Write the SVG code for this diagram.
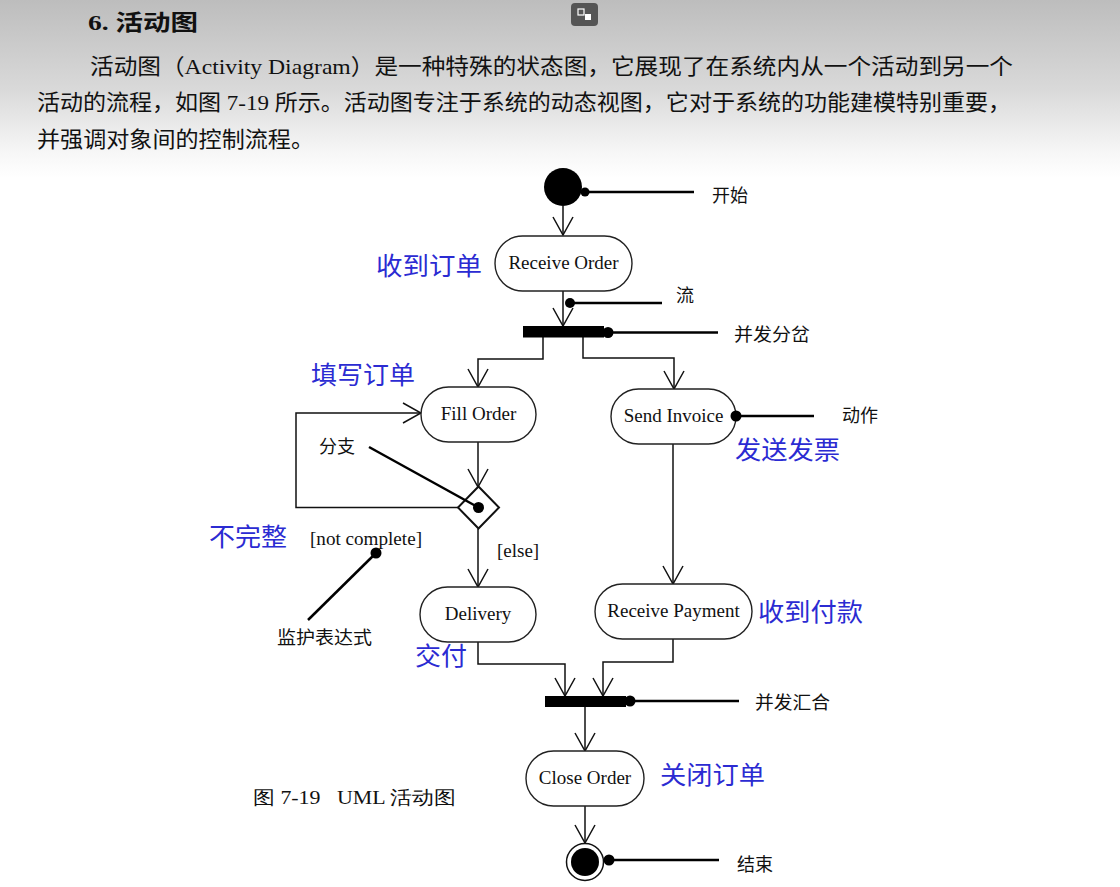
<svg xmlns="http://www.w3.org/2000/svg" width="1120" height="887" viewBox="0 0 1120 887">
<defs>
<linearGradient id="bg" x1="0" y1="0" x2="0" y2="1">
<stop offset="0" stop-color="#bdbdbd"/>
<stop offset="0.5" stop-color="#d9d9d9"/>
<stop offset="0.85" stop-color="#f6f6f6"/>
<stop offset="1" stop-color="#ffffff"/>
</linearGradient>
<marker id="arr" viewBox="0 0 20 22" refX="19" refY="11" markerWidth="20" markerHeight="22" markerUnits="userSpaceOnUse" orient="auto">
<path d="M1,1 L19,11 L1,21" fill="none" stroke="#111" stroke-width="1.5"/>
</marker>
<style>
.para{font-family:"Liberation Serif","Noto Sans CJK SC",serif;font-size:22px;fill:#111}
.title{font-family:"Liberation Serif","Noto Sans CJK SC",serif;font-size:22px;font-weight:bold;fill:#111}
.node{fill:#fff;stroke:#222;stroke-width:1.4}
.ntxt{font-family:"Liberation Serif",serif;font-size:19px;fill:#111;text-anchor:middle}
.lbl{font-family:"Liberation Serif","Noto Sans CJK SC",serif;font-size:18px;fill:#111}
.blue{font-family:"Noto Sans CJK SC",sans-serif;font-size:25px;fill:#2b2bd2}
.grd{font-family:"Liberation Serif",serif;font-size:19px;fill:#111}
.conn{fill:none;stroke:#111;stroke-width:1.5}
.ptr{stroke:#000;stroke-width:2.5;fill:none}
.dot{fill:#000}
.bar{fill:#000}
</style>
</defs>
<rect x="0" y="0" width="1120" height="887" fill="#fff"/>
<rect x="0" y="0" width="1120" height="178" fill="url(#bg)"/>
<g id="toolbar-icon">
<rect x="571" y="3" width="27" height="23" rx="4" fill="#555"/>
<rect x="578" y="9" width="6" height="6" fill="none" stroke="#fff" stroke-width="1.2"/>
<rect x="585" y="14" width="6" height="6" fill="#fff"/>
</g>
<g id="heading">
<text class="title" x="88" y="30" textLength="110" lengthAdjust="spacingAndGlyphs">6. 活动图</text>
<text class="para" x="90" y="74" textLength="923" lengthAdjust="spacingAndGlyphs">活动图（Activity Diagram）是一种特殊的状态图，它展现了在系统内从一个活动到另一个</text>
<text class="para" x="37" y="110" textLength="974" lengthAdjust="spacingAndGlyphs">活动的流程，如图 7-19 所示。活动图专注于系统的动态视图，它对于系统的功能建模特别重要，</text>
<text class="para" x="37" y="147" textLength="277" lengthAdjust="spacingAndGlyphs">并强调对象间的控制流程。</text>
</g>
<g id="connectors">
<path class="conn" d="M563 206 V235" marker-end="url(#arr)"/>
<path class="conn" d="M563 291 V326" marker-end="url(#arr)"/>
<path class="conn" d="M543 337 V359 H478 V387" marker-end="url(#arr)"/>
<path class="conn" d="M583 337 V358 H674 V389" marker-end="url(#arr)"/>
<path class="conn" d="M478 442 V487" marker-end="url(#arr)"/>
<path class="conn" d="M458 507.5 H296 V413 H421" marker-end="url(#arr)"/>
<path class="conn" d="M478 528.5 V587" marker-end="url(#arr)"/>
<path class="conn" d="M673 444 V584" marker-end="url(#arr)"/>
<path class="conn" d="M478 642 V664 H565 V696" marker-end="url(#arr)"/>
<path class="conn" d="M673 639 V662 H603 V696" marker-end="url(#arr)"/>
<path class="conn" d="M585 707 V751" marker-end="url(#arr)"/>
<path class="conn" d="M585 806 V843" marker-end="url(#arr)"/>
</g>
<g id="start">
<circle cx="563" cy="187" r="19" fill="#000"/>
</g>
<g id="receive-order">
<rect class="node" x="495" y="236" width="137" height="55" rx="27.5"/>
<text class="ntxt" x="563.5" y="269">Receive Order</text>
</g>
<g id="fork">
<rect class="bar" x="523" y="326" width="81" height="11.5"/>
</g>
<g id="fill-order">
<rect class="node" x="421" y="387" width="115" height="55" rx="27.5"/>
<text class="ntxt" x="478.5" y="420">Fill Order</text>
</g>
<g id="send-invoice">
<rect class="node" x="611" y="389" width="125" height="55" rx="27.5"/>
<text class="ntxt" x="673.5" y="422">Send Invoice</text>
</g>
<g id="decision">
<polygon points="478.5,486.5 499,507.5 478.5,528.5 458,507.5" fill="#fff" stroke="#111" stroke-width="2"/>
</g>
<g id="delivery">
<rect class="node" x="420" y="587" width="116" height="55" rx="27.5"/>
<text class="ntxt" x="478" y="620">Delivery</text>
</g>
<g id="receive-payment">
<rect class="node" x="595" y="584" width="157" height="55" rx="27.5"/>
<text class="ntxt" x="673.5" y="617">Receive Payment</text>
</g>
<g id="join">
<rect class="bar" x="545" y="696" width="81" height="11"/>
</g>
<g id="close-order">
<rect class="node" x="526" y="751" width="118" height="55" rx="27.5"/>
<text class="ntxt" x="585" y="784">Close Order</text>
</g>
<g id="end">
<circle cx="585" cy="862" r="18.5" fill="#fff" stroke="#111" stroke-width="1.5"/>
<circle cx="585" cy="862" r="14" fill="#000"/>
</g>
<g id="guards">
<text class="grd" x="310" y="545" textLength="112" lengthAdjust="spacingAndGlyphs">[not complete]</text>
<text class="grd" x="497" y="557">[else]</text>
</g>
<g id="annotations">
<line class="ptr" x1="586" y1="192" x2="694" y2="192"/>
<circle class="dot" cx="585" cy="192" r="4.5"/>
<text class="lbl" x="712" y="202">开始</text>
<line class="ptr" x1="570" y1="303" x2="662" y2="303"/>
<circle class="dot" cx="570" cy="303" r="5"/>
<text class="lbl" x="676" y="302">流</text>
<line class="ptr" x1="608" y1="332.5" x2="718" y2="332.5"/>
<circle class="dot" cx="608" cy="332.5" r="5.5"/>
<text class="lbl" x="734" y="341" textLength="76" lengthAdjust="spacingAndGlyphs">并发分岔</text>
<line class="ptr" x1="736" y1="416" x2="814" y2="416"/>
<circle class="dot" cx="736" cy="416" r="5.5"/>
<text class="lbl" x="842" y="422">动作</text>
<line class="ptr" x1="369" y1="447" x2="478.5" y2="507.5"/>
<circle class="dot" cx="478.5" cy="507.5" r="5.5"/>
<text class="lbl" x="319" y="453">分支</text>
<line class="ptr" x1="308" y1="620" x2="376" y2="553"/>
<circle class="dot" cx="376" cy="553" r="5.5"/>
<text class="lbl" x="277" y="644" textLength="95" lengthAdjust="spacingAndGlyphs">监护表达式</text>
<line class="ptr" x1="630" y1="701" x2="739" y2="701"/>
<circle class="dot" cx="630" cy="701" r="5.5"/>
<text class="lbl" x="755" y="709" textLength="75" lengthAdjust="spacingAndGlyphs">并发汇合</text>
<line class="ptr" x1="609" y1="860" x2="719" y2="860"/>
<circle class="dot" cx="609" cy="860" r="5.5"/>
<text class="lbl" x="737" y="871">结束</text>
</g>
<g id="blue-labels">
<text class="blue" x="376" y="275" textLength="106" lengthAdjust="spacingAndGlyphs">收到订单</text>
<text class="blue" x="311" y="384" textLength="104" lengthAdjust="spacingAndGlyphs">填写订单</text>
<text class="blue" x="735" y="459" textLength="105" lengthAdjust="spacingAndGlyphs">发送发票</text>
<text class="blue" x="209" y="546" textLength="78" lengthAdjust="spacingAndGlyphs">不完整</text>
<text class="blue" x="758" y="621" textLength="105" lengthAdjust="spacingAndGlyphs">收到付款</text>
<text class="blue" x="415" y="665" textLength="52" lengthAdjust="spacingAndGlyphs">交付</text>
<text class="blue" x="660" y="784" textLength="105" lengthAdjust="spacingAndGlyphs">关闭订单</text>
</g>
<g id="caption">
<text class="grd" x="253" y="804" textLength="203" lengthAdjust="spacingAndGlyphs" xml:space="preserve">图 7-19   UML 活动图</text>
</g>
</svg>
